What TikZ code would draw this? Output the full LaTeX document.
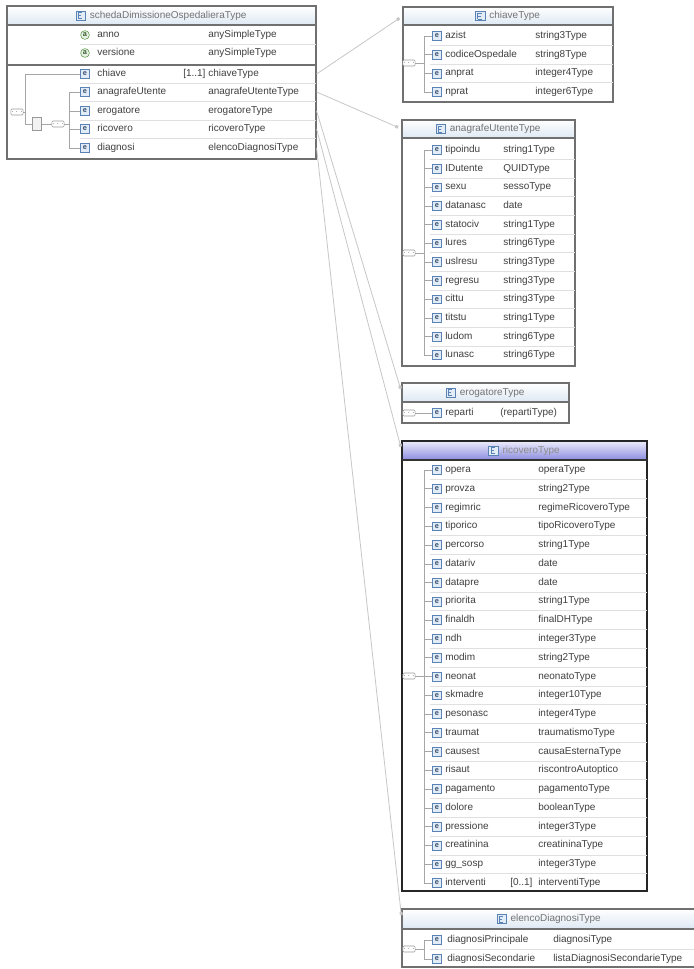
\documentclass[tikz,border=0pt]{standalone}
\usepackage{fontspec}
\setmainfont{Liberation Sans}
\usetikzlibrary{arrows.meta,positioning,fit}

\definecolor{boxgray}{HTML}{707070}
\definecolor{txtgray}{HTML}{404040}
\definecolor{titleblue}{HTML}{DDE8F3}
\definecolor{selblue}{HTML}{8A8AE0}
\definecolor{iconblue}{HTML}{5A82B4}
\definecolor{iconfill}{HTML}{E2ECF7}
\definecolor{attgreen}{HTML}{5C9A48}

\begin{document}
\begin{tikzpicture}[
    x=0.75pt, y=-0.75pt,
    font=\fontsize{7.5}{9}\selectfont,
    frame/.style={
        rectangle,
        draw=boxgray,
        line width=0.9pt,
        inner sep=0pt
    },
    selframe/.style={
        frame,
        draw=black!85,
        line width=1.5pt
    },
    titlebar/.style={
        rectangle,
        inner sep=0pt,
        top color=white,
        bottom color=titleblue
    },
    seltitle/.style={
        titlebar,
        top color=selblue!15,
        bottom color=selblue
    },
    titletext/.style={
        text=black!55,
        inner sep=1pt,
        text height=5.4pt,
        text depth=1.6pt,
        xshift=5pt
    },
    typeicon/.style={
        rectangle,
        draw=iconblue,
        fill=iconfill,
        line width=0.4pt,
        minimum size=7pt,
        inner sep=0pt
    },
    elicon/.style={
        rectangle,
        draw=iconblue,
        fill=iconfill,
        line width=0.4pt,
        minimum size=6.6pt,
        inner sep=0pt,
        font=\fontsize{5.5}{5.5}\selectfont\bfseries,
        text=iconblue!60!black
    },
    atticon/.style={
        circle,
        draw=attgreen,
        fill=attgreen!15,
        line width=0.4pt,
        minimum size=6.6pt,
        inner sep=0pt,
        font=\fontsize{5.5}{5.5}\selectfont\bfseries,
        text=attgreen!60!black
    },
    lbl/.style={
        anchor=west,
        inner sep=0pt,
        text height=5.4pt,
        text depth=1.6pt,
        text=txtgray
    },
    seq/.style={
        rectangle,
        rounded corners=1pt,
        draw=black!40,
        fill=white,
        line width=0.4pt,
        minimum width=7pt,
        minimum height=4.5pt,
        inner sep=0pt,
        font=\tiny
    },
    grp/.style={
        rectangle,
        draw=black!40,
        fill=black!5,
        line width=0.4pt,
        minimum width=6.5pt,
        minimum height=9.5pt,
        inner sep=0pt
    },
    branch/.style={draw=black!35, line width=0.45pt},
    rowline/.style={draw=black!12, line width=0.45pt},
    titlesep/.style={draw=boxgray, line width=1.5pt},
    link/.style={
        draw=black!22,
        line width=0.6pt,
        -{Square[length=2.2pt,width=2.2pt]},
        shorten >=3pt
    }
]

\path[use as bounding box, fill=white] (0,0) rectangle (693,969);

% ---------------- schedaDimissioneOspedalieraType ----------------

\node[titlebar, fit={(7,6) (316,25)}] (main-t) {};
\node[frame, fit={(7,6) (316,159)}] (main) {};
\draw[titlesep] (main-t.south west) -- (main-t.south east);
\node[titletext] (main-n) at (main-t) {schedaDimissioneOspedalieraType};
\node[typeicon, left=2pt of main-n] (main-ic) {};

\foreach \n/\y in {anno/35, versione/53} {
    \node[atticon] (main-\n) at (85,\y) {a};
    \node[lbl] at (97,\y) {\n};
    \node[lbl] at (208,\y) {anySimpleType};
}
\draw[rowline] (80,44) -- (316,44);
\draw[titlesep, line width=1.2pt] (7,65) -- (316,65);

\foreach \n/\t/\y in {chiave/chiaveType/74, anagrafeUtente/anagrafeUtenteType/92,
        erogatore/erogatoreType/111, ricovero/ricoveroType/129,
        diagnosi/elencoDiagnosiType/148} {
    \node[elicon] (main-\n) at (85,\y) {e};
    \node[lbl] at (97,\y) {\n};
    \node[lbl] at (208,\y) {\t};
}
\node[lbl] at (183,74) {[1..1]};
\foreach \y in {83,101,120,138}
    \draw[rowline] (80,\y) -- (316,\y);

\node[seq] (main-s1) at (17,112) {$\cdots$};
\coordinate (main-j) at (25,112);
\node[grp] (main-g) at (37,124) {};
\node[seq] (main-s2) at (58,124) {$\cdots$};
\draw[branch] (main-s1) -- (main-j);
\draw[branch] (main-j) |- (main-chiave);
\draw[branch] (main-j) |- (main-g);
\draw[branch] (main-g) -- (main-s2);
\foreach \n in {anagrafeUtente, erogatore, ricovero, diagnosi}
    \draw[branch] (main-s2.east) -- ++(5,0) |- (main-\n);

% ---------------- chiaveType ----------------

\node[titlebar, fit={(403,7) (613,25)}] (chiave-t) {};
\node[frame, fit={(403,7) (613,102)}] (chiave) {};
\draw[titlesep] (chiave-t.south west) -- (chiave-t.south east);
\node[titletext] (chiave-n) at (chiave-t) {chiaveType};
\node[typeicon, left=2pt of chiave-n] (chiave-ic) {};
\node[seq] (chiave-s) at (409,63) {$\cdots$};

\foreach \n/\t [count=\i] in {azist/string3Type, codiceOspedale/string8Type,
        anprat/integer4Type, nprat/integer6Type} {
    \pgfmathsetmacro{\y}{36+18.7*(\i-1)}
    \node[elicon] (chiave-\i) at (437,\y) {e};
    \node[lbl] at (445,\y) {\n};
    \node[lbl] at (535,\y) {\t};
    \ifnum\i>1 \draw[rowline] (430,{\y-9.35}) -- (613,{\y-9.35}); \fi
    \draw[branch] (chiave-s.east) -- ++(9,0) |- (chiave-\i);
}

% ---------------- anagrafeUtenteType ----------------

\node[titlebar, fit={(402,120) (575,138)}] (anag-t) {};
\node[frame, fit={(402,120) (575,366)}] (anag) {};
\draw[titlesep] (anag-t.south west) -- (anag-t.south east);
\node[titletext] (anag-n) at (anag-t) {anagrafeUtenteType};
\node[typeicon, left=2pt of anag-n] (anag-ic) {};
\node[seq] (anag-s) at (409,253) {$\cdots$};

\foreach \n/\t [count=\i] in {tipoindu/string1Type, IDutente/QUIDType, sexu/sessoType,
        datanasc/date, statociv/string1Type, lures/string6Type, uslresu/string3Type,
        regresu/string3Type, cittu/string3Type, titstu/string1Type, ludom/string6Type,
        lunasc/string6Type} {
    \pgfmathsetmacro{\y}{150+18.65*(\i-1)}
    \node[elicon] (anag-\i) at (437,\y) {e};
    \node[lbl] at (445,\y) {\n};
    \node[lbl] at (503,\y) {\t};
    \ifnum\i>1 \draw[rowline] (430,{\y-9.3}) -- (575,{\y-9.3}); \fi
    \draw[branch] (anag-s.east) -- ++(9,0) |- (anag-\i);
}

% ---------------- erogatoreType ----------------

\node[titlebar, fit={(402,383) (569,402)}] (erog-t) {};
\node[frame, fit={(402,383) (569,423)}] (erog) {};
\draw[titlesep] (erog-t.south west) -- (erog-t.south east);
\node[titletext] (erog-n) at (erog-t) {erogatoreType};
\node[typeicon, left=2pt of erog-n] (erog-ic) {};
\node[seq] (erog-s) at (409,413) {$\cdots$};
\node[elicon] (erog-1) at (437,413) {e};
\node[lbl] at (445,413) {reparti};
\node[lbl] at (500,413) {(repartiType)};
\draw[branch] (erog-s) -- (erog-1);

% ---------------- ricoveroType ----------------

\node[seltitle, fit={(402,441) (647,460)}] (ricov-t) {};
\node[selframe, fit={(402,441) (647,891)}] (ricov) {};
\draw[titlesep, draw=black!80] (ricov-t.south west) -- (ricov-t.south east);
\node[titletext, text=black!45] (ricov-n) at (ricov-t) {ricoveroType};
\node[typeicon, left=2pt of ricov-n] (ricov-ic) {};
\node[seq] (ricov-s) at (409,676) {$\cdots$};

\foreach \n/\t [count=\i] in {opera/operaType, provza/string2Type, regimric/regimeRicoveroType,
        tiporico/tipoRicoveroType, percorso/string1Type, datariv/date, datapre/date,
        priorita/string1Type, finaldh/finalDHType, ndh/integer3Type, modim/string2Type,
        neonat/neonatoType, skmadre/integer10Type, pesonasc/integer4Type,
        traumat/traumatismoType, causest/causaEsternaType, risaut/riscontroAutoptico,
        pagamento/pagamentoType, dolore/booleanType, pressione/integer3Type,
        creatinina/creatininaType, gg\_sosp/integer3Type, interventi/interventiType} {
    \pgfmathsetmacro{\y}{470+18.77*(\i-1)}
    \node[elicon] (ricov-\i) at (437,\y) {e};
    \node[lbl] at (445,\y) {\n};
    \node[lbl] at (538,\y) {\t};
    \ifnum\i>1 \draw[rowline] (430,{\y-9.38}) -- (647,{\y-9.38}); \fi
    \draw[branch] (ricov-s.east) -- ++(9,0) |- (ricov-\i);
}
\node[lbl] at (510,883) {[0..1]};

% ---------------- elencoDiagnosiType ----------------

\node[titlebar, fit={(402,909) (696,929)}] (elenco-t) {};
\node[frame, fit={(402,909) (696,967)}] (elenco) {};
\draw[titlesep] (elenco-t.south west) -- (elenco-t.south east);
\node[titletext] (elenco-n) at (elenco-t) {elencoDiagnosiType};
\node[typeicon, left=2pt of elenco-n] (elenco-ic) {};
\node[seq] (elenco-s) at (409,949) {$\cdots$};

\foreach \n/\t [count=\i] in {diagnosiPrincipale/diagnosiType,
        diagnosiSecondarie/listaDiagnosiSecondarieType} {
    \pgfmathsetmacro{\y}{940+19*(\i-1)}
    \node[elicon] (elenco-\i) at (437,\y) {e};
    \node[lbl] at (447,\y) {\n};
    \node[lbl] at (553,\y) {\t};
    \ifnum\i>1 \draw[rowline] (430,{\y-9.5}) -- (696,{\y-9.5}); \fi
    \draw[branch] (elenco-s.east) -- ++(9,0) |- (elenco-\i);
}

% type icon marks
\foreach \bx in {main, chiave, anag, erog, ricov, elenco}
    \draw[iconblue, line width=0.4pt]
        ([shift={(2.5,2)}]\bx-ic.north west) -- ([shift={(2.5,-2)}]\bx-ic.south west)
        ([shift={(2.5,2)}]\bx-ic.north west) -- ++(4,0)
        ([shift={(2.5,0)}]\bx-ic.west) -- ++(3,0)
        ([shift={(2.5,-2)}]\bx-ic.south west) -- ++(4,0);

% ---------------- connectors ----------------

\draw[link] (main.east |- main-chiave) -- (chiave-t.west);
\draw[link] (main.east |- main-anagrafeUtente) -- (anag-t.west);
\draw[link] (main.east |- main-erogatore) -- (erog-t.west);
\draw[link] (main.east |- main-ricovero) -- (ricov-t.west);
\draw[link] (main.east |- main-diagnosi) -- (elenco-t.west);

\end{tikzpicture}
\end{document}
